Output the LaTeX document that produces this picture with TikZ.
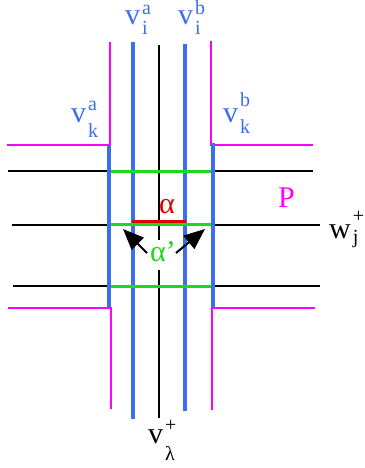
\documentclass[tikz,border=0pt]{standalone}
\usepackage{fontspec}
\setmainfont{Liberation Serif}
\usetikzlibrary{arrows.meta}
\definecolor{vblue}{RGB}{60,110,240}
\definecolor{pmag}{RGB}{255,0,255}
\definecolor{egreen}{RGB}{30,215,30}
\definecolor{ered}{RGB}{220,0,0}
\newcommand{\lbl}[5]{#1\hspace{2pt}\rlap{\raisebox{#4}{\fontsize{20}{20}\selectfont #2}}\raisebox{-#5}{\fontsize{20}{20}\selectfont #3}}
\tikzset{
  blueline/.style={draw=vblue, line width=4.5pt},
  magline/.style={draw=pmag, line width=1.3pt},
  blkline/.style={draw=black, line width=1.2pt},
  grnline/.style={draw=egreen, line width=3pt},
  redline/.style={draw=ered, line width=3pt},
  txt/.style={anchor=base west, inner sep=0pt, font=\fontsize{30}{32}\selectfont},
  arr/.style={draw=black, line width=2pt, -{Triangle[length=21pt,width=17pt]}}
}
\begin{document}
\begin{tikzpicture}[x=1pt,y=-1pt]
\useasboundingbox (0,0) rectangle (364,468);
\fill[white] (0,0) rectangle (364,468);
% magenta outline
\draw[magline] (7,145) -- (110,145) -- (110,42);
\draw[magline] (211,41) -- (211,145) -- (313,145);
\draw[magline] (8,308) -- (111,308) -- (111,409);
\draw[magline] (212,410) -- (212,308) -- (315,308);
% black lines
\draw[blkline] (8,171) -- (313,171);
\draw[blkline] (12,225) -- (320,225);
\draw[blkline] (13,286) -- (320,286);
\draw[blkline] (159,45) -- (159,418);
% blue lines
\draw[blueline] (109,145) -- (109,308);
\draw[blueline] (213,143) -- (213,308);
\draw[blueline] (133,42) -- (133,419);
\draw[blueline] (185,44) -- (185,411);
% green and red
\draw[grnline] (111,171) -- (211,171);
\draw[grnline] (111,224.5) -- (211,224.5);
\draw[grnline] (111,286) -- (211,286);
\draw[redline] (132,221) -- (186,221);
% labels
\node[txt, text=vblue] (via) at (125,25) {\lbl{v}{a}{i}{10.5pt}{10pt}};
\node[txt, text=vblue] (vib) at (178,25) {\lbl{v}{b}{i}{10.5pt}{10pt}};
\node[txt, text=vblue] (vka) at (71,122) {\lbl{v}{a}{k}{12pt}{15pt}};
\node[txt, text=vblue] (vkb) at (223,122) {\lbl{v}{b}{k}{16pt}{11pt}};
\node[txt] (wj) at (329,238) {\lbl{w}{+}{j}{16pt}{5pt}};
\node[txt] (vl) at (148,443) {\lbl{v}{+}{λ}{12pt}{17pt}};
\node[txt, text=pmag] (P) at (278,207) {P};
\node[txt, text=ered] (al) at (159,213) {α};
\node[txt, text=egreen, fill=white, inner sep=1pt, text depth=8pt] (alp) at (149,261) {α’};
% arrows
\coordinate (tl) at (123,229);
\coordinate (sl) at (147,253);
\coordinate (tr) at (205,229);
\coordinate (sr) at (176,253);
\draw[arr] (sl) -- (tl);
\draw[arr] (sr) -- (tr);
\end{tikzpicture}
\end{document}
